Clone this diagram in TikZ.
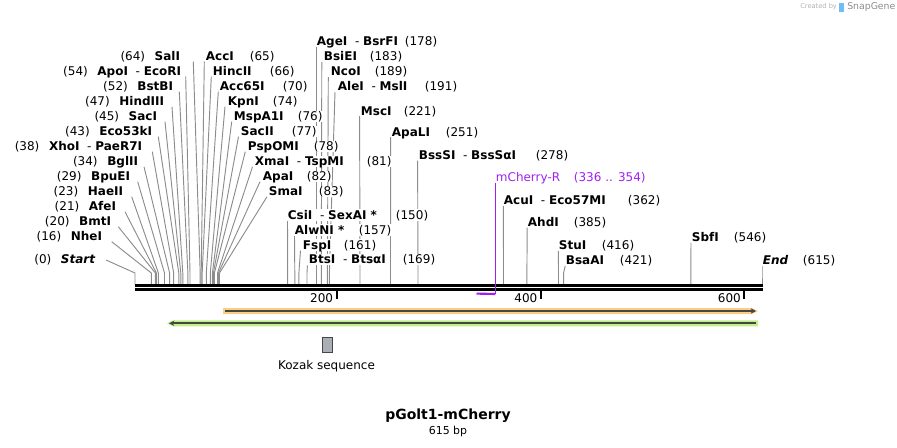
\documentclass[tikz,border=0pt]{standalone}
\usepackage{fontspec}
\setmainfont{DejaVu Sans}
\usetikzlibrary{arrows.meta}
\definecolor{linegray}{RGB}{140,140,140}
\definecolor{orfill}{RGB}{252,206,130}
\definecolor{grfill}{RGB}{192,240,135}
\definecolor{darkln}{RGB}{70,70,70}
\definecolor{primer}{RGB}{160,32,240}
\definecolor{kozak}{RGB}{170,175,182}
\definecolor{sglogo}{RGB}{110,190,245}
\newcommand\sepx{{\mdseries\ \ -\ }}
\newcommand\LL[6]{\node[nm,anchor=east] (#1) at (#3,#4) {#6};\node[num,anchor=east] (#1n) at ([xshift=-5.8pt]#1.west) {#5};}
\newcommand\RL[6]{\node[nm,anchor=west] (#1) at (#2,#4) {#6};\node[num,anchor=west] (#1n) at (#3,#4) {#5};}
\newcommand\cutl[3]{\draw[cut] (#1,#2) -- (#3,273) -- (#3,284);}
\begin{document}
\begin{tikzpicture}[x=0.75pt,y=-0.75pt,
  nm/.style={font=\fontsize{9}{10}\selectfont\bfseries, fill=white, inner xsep=0.5pt, inner ysep=1pt, text height=6.6pt, text depth=0pt},
  num/.style={font=\fontsize{9}{10}\selectfont, fill=white, inner xsep=0.5pt, inner ysep=1pt, text height=6.6pt, text depth=0pt},
  cut/.style={draw=linegray, line width=0.7pt},
  tick/.style={line width=1.5pt, draw=black}]
\useasboundingbox (0,0) rectangle (897,447);
% ---- connector lines (left cluster, left-side labels)
\cutl{193.3}{61.7}{200.2}
\cutl{185.7}{76.7}{190.0}
\cutl{179.3}{91.7}{187.9}
\cutl{172}{106.7}{182.8}
\cutl{165}{121.7}{180.8}
\cutl{158.3}{136.7}{178.8}
\cutl{152.3}{151.7}{173.7}
\cutl{144}{166.7}{169.6}
\cutl{137.7}{181.7}{164.5}
\cutl{131.7}{196.7}{158.4}
\cutl{125}{211.7}{156.4}
\cutl{118.3}{226.7}{155.4}
\cutl{111.7}{241.7}{151.3}
\cutl{106}{260}{135}
% ---- left cluster, right-side labels
\cutl{204.3}{61.7}{201.2}
\cutl{211.3}{76.7}{202.2}
\cutl{218.3}{91.7}{206.3}
\cutl{225}{106.7}{210.3}
\cutl{231.7}{121.7}{212.4}
\cutl{238.5}{136.7}{213.4}
\cutl{245.3}{151.7}{214.4}
\cutl{252.5}{166.7}{217.5}
\cutl{260}{181.7}{218.5}
\cutl{267}{196.7}{219.5}
% ---- middle
\cutl{316.2}{47}{316.2}
\cutl{321.8}{62}{321.3}
\cutl{328.3}{77}{327.4}
\cutl{335}{92}{329.4}
\cutl{359.6}{116}{360}
\cutl{390.6}{137}{390.5}
\cutl{417.6}{160.5}{418}
\cutl{287.5}{220.5}{287.7}
\cutl{294.5}{235.5}{294.8}
\cutl{300.5}{250.5}{298.9}
\cutl{307.4}{265.5}{307}
% ---- right
\cutl{503.4}{205.5}{503.5}
\cutl{527.2}{227.5}{526.9}
\cutl{558.4}{250.5}{558.5}
\cutl{565.2}{266}{563.6}
\cutl{691}{242.5}{690.8}
\cutl{762}{266}{762}
% ---- backbone
\draw[line width=2.25pt] (134.5,285.5) -- (762.5,285.5);
\draw[line width=2pt] (134.5,289.4) -- (762.5,289.4);
% primer
\coordinate (prtop) at (495.4,182.5);
\coordinate (prbot) at (495.4,294);
\coordinate (prl) at (476.5,293.6);
\draw[primer, line width=0.75pt] (prtop) -- (prbot);
\draw[primer, line width=1.6pt] (prl) -- (prbot);
% ticks
\draw[tick] (336.7,291) -- (336.7,299);
\draw[tick] (540.8,291) -- (540.8,299);
\draw[tick] (744.3,291) -- (744.3,299);
\node[num, fill=none, anchor=east] (t200) at (334,298) {200};
\node[num, fill=none, anchor=east] (t400) at (538.3,298) {400};
\node[num, fill=none, anchor=east] (t600) at (741.8,298) {600};
% ---- labels: left cluster, left side
\LL{sal}{128}{181}{56.5}{(64)}{SalI}
\LL{apo}{60}{182}{71.5}{(54)}{ApoI\sepx EcoRI}
\LL{bstb}{107}{174}{86.5}{(52)}{BstBI}
\LL{hind}{83}{165}{101.5}{(47)}{HindIII}
\LL{sac}{97}{158}{116.5}{(45)}{SacI}
\LL{ecok}{67}{153}{131.5}{(43)}{Eco53kI}
\LL{xho}{13}{143}{146.5}{(38)}{XhoI\sepx PaeR7I}
\LL{bgl}{73}{139}{161.5}{(34)}{BglII}
\LL{bpu}{59}{131}{176.5}{(29)}{BpuEI}
\LL{hae}{53}{124}{191.5}{(23)}{HaeII}
\LL{afe}{57}{117}{206.5}{(21)}{AfeI}
\LL{bmt}{46}{112}{221.5}{(20)}{BmtI}
\LL{nhe}{39}{103}{236.5}{(16)}{NheI}
\LL{startl}{38}{96}{259}{(0)}{\itshape Start}
% ---- left cluster, right side
\RL{acc}{205}{249}{56.5}{(65)}{AccI}
\RL{hinc}{212}{269}{71.5}{(66)}{HincII}
\RL{acck}{219}{282}{86.5}{(70)}{Acc65I}
\RL{kpn}{227}{272}{101.5}{(74)}{KpnI}
\RL{mspa}{233}{297}{116.5}{(76)}{MspA1I}
\RL{sacii}{240}{291}{131.5}{(77)}{SacII}
\RL{psp}{247}{313}{146.5}{(78)}{PspOMI}
\RL{xma}{254}{366}{161.5}{(81)}{XmaI\sepx TspMI}
\RL{apa}{262}{306}{176.5}{(82)}{ApaI}
\RL{sma}{268}{318}{191.5}{(83)}{SmaI}
% ---- middle upper
\RL{age}{316}{404}{41.5}{(178)}{AgeI\sepx BsrFI}
\RL{bsie}{323}{369}{56.5}{(183)}{BsiEI}
\RL{nco}{330}{374}{71.5}{(189)}{NcoI}
\RL{ale}{337}{424}{86.5}{(191)}{AleI\sepx MslI}
\RL{msc}{360}{403}{110.7}{(221)}{MscI}
\RL{apal}{391}{445}{131.7}{(251)}{ApaLI}
\RL{bsss}{418}{535}{155}{(278)}{BssSI\sepx BssSαI}
% ---- middle lower
\RL{csi}{287}{395}{215}{(150)}{CsiI\sepx SexAI *}
\RL{alw}{294}{358}{230}{(157)}{AlwNI *}
\RL{fsp}{302}{343}{245}{(161)}{FspI}
\RL{bts}{308}{402}{259.5}{(169)}{BtsI\sepx BtsαI}
% ---- right
\node[num, text=primer, anchor=west] (mch) at (495,176.7) {mCherry-R};
\node[num, text=primer, anchor=west] (mchn) at (573,176.7) {(336 .. 354)};
\RL{acu}{503}{627}{200}{(362)}{AcuI\sepx Eco57MI}
\RL{ahd}{527}{573}{221.7}{(385)}{AhdI}
\RL{stu}{558}{601}{245}{(416)}{StuI}
\RL{bsaa}{565}{619}{260}{(421)}{BsaAI}
\RL{sbf}{691}{733}{237}{(546)}{SbfI}
\RL{endl}{762}{802}{260}{(615)}{\itshape End}
% ---- features
\fill[orfill] (223,308) -- (752,308) -- (758,311) -- (752,314) -- (223,314) -- cycle;
\draw[darkln, line width=1.5pt, -{Stealth[length=4pt,width=4pt]}] (225,311) -- (756,311);
\fill[grfill] (167,323.3) -- (173,320.3) -- (758,320.3) -- (758,326.3) -- (173,326.3) -- cycle;
\draw[darkln, line width=1.5pt, -{Stealth[length=4pt,width=4pt]}] (756,323.3) -- (169,323.3);
\node[draw=darkln, fill=kozak, line width=0.6pt, minimum width=10.5pt*0.75, minimum height=15pt*0.75, inner sep=0pt] (koz) at (327.5,344.5) {};
\node[font=\fontsize{9}{10}\selectfont] (kozt) at (326.5,366) {Kozak sequence};
% ---- title
\node[font=\fontsize{10.5}{12}\selectfont\bfseries] (title) at (448,416) {pGolt1-mCherry};
\node[font=\fontsize{8.2}{10}\selectfont] (bp) at (448,431) {615 bp};
% ---- credit
\node[font=\fontsize{5}{6}\selectfont, text=black!30, anchor=west, inner sep=0pt] (cby) at (800,7) {Created by};
\fill[sglogo] (839,2.5) rectangle (843.5,12);
\node[font=\fontsize{7}{8}\selectfont, text=black!45, anchor=west, inner sep=0pt] (sg) at (847,7.5) {SnapGene};
\end{tikzpicture}
\end{document}
